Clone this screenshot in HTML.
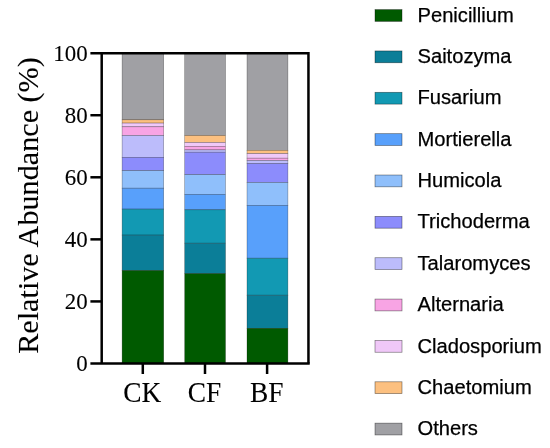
<!DOCTYPE html>
<html><head><meta charset="utf-8"><title>Relative Abundance</title>
<style>
html,body{margin:0;padding:0;background:#fff;overflow:hidden;}
svg{display:block;}
.serif{font-family:"Liberation Serif","Times New Roman",serif;fill:#000;stroke:#000;stroke-width:0.1px;}
.sans{font-family:"Liberation Sans",Arial,sans-serif;fill:#000;stroke:#000;stroke-width:0.25px;}
</style></head><body>
<svg width="550" height="448" viewBox="0 0 550 448">
<rect width="550" height="448" fill="#fff"/>
<rect x="122.1" y="53" width="41.6" height="66.8" fill="#a0a0a4" stroke="rgba(0,0,0,0.4)" stroke-width="0.6"/>
<rect x="122.1" y="119.8" width="41.6" height="3.3" fill="#fcc080" stroke="rgba(0,0,0,0.4)" stroke-width="0.6"/>
<rect x="122.1" y="123.1" width="41.6" height="3.7" fill="#f0c8f8" stroke="rgba(0,0,0,0.4)" stroke-width="0.6"/>
<rect x="122.1" y="126.8" width="41.6" height="8.7" fill="#f8a4e4" stroke="rgba(0,0,0,0.4)" stroke-width="0.6"/>
<rect x="122.1" y="135.5" width="41.6" height="21.8" fill="#bcbcfb" stroke="rgba(0,0,0,0.4)" stroke-width="0.6"/>
<rect x="122.1" y="157.3" width="41.6" height="13.3" fill="#8c8cfc" stroke="rgba(0,0,0,0.4)" stroke-width="0.6"/>
<rect x="122.1" y="170.6" width="41.6" height="17.6" fill="#8fbffb" stroke="rgba(0,0,0,0.4)" stroke-width="0.6"/>
<rect x="122.1" y="188.2" width="41.6" height="20.9" fill="#58a0fb" stroke="rgba(0,0,0,0.4)" stroke-width="0.6"/>
<rect x="122.1" y="209.1" width="41.6" height="26.0" fill="#1299b3" stroke="rgba(0,0,0,0.4)" stroke-width="0.6"/>
<rect x="122.1" y="235.1" width="41.6" height="35.4" fill="#0b7e98" stroke="rgba(0,0,0,0.4)" stroke-width="0.6"/>
<rect x="122.1" y="270.5" width="41.6" height="92.5" fill="#005a00" stroke="rgba(0,0,0,0.4)" stroke-width="0.6"/>
<rect x="184.7" y="53" width="40.8" height="82.5" fill="#a0a0a4" stroke="rgba(0,0,0,0.4)" stroke-width="0.6"/>
<rect x="184.7" y="135.5" width="40.8" height="7.0" fill="#fcc080" stroke="rgba(0,0,0,0.4)" stroke-width="0.6"/>
<rect x="184.7" y="142.5" width="40.8" height="3.8" fill="#f0c8f8" stroke="rgba(0,0,0,0.4)" stroke-width="0.6"/>
<rect x="184.7" y="146.3" width="40.8" height="3.6" fill="#f8a4e4" stroke="rgba(0,0,0,0.4)" stroke-width="0.6"/>
<rect x="184.7" y="149.9" width="40.8" height="2.3" fill="#bcbcfb" stroke="rgba(0,0,0,0.4)" stroke-width="0.6"/>
<rect x="184.7" y="152.2" width="40.8" height="22.4" fill="#8c8cfc" stroke="rgba(0,0,0,0.4)" stroke-width="0.6"/>
<rect x="184.7" y="174.6" width="40.8" height="19.7" fill="#8fbffb" stroke="rgba(0,0,0,0.4)" stroke-width="0.6"/>
<rect x="184.7" y="194.3" width="40.8" height="15.5" fill="#58a0fb" stroke="rgba(0,0,0,0.4)" stroke-width="0.6"/>
<rect x="184.7" y="209.8" width="40.8" height="33.4" fill="#1299b3" stroke="rgba(0,0,0,0.4)" stroke-width="0.6"/>
<rect x="184.7" y="243.2" width="40.8" height="30.4" fill="#0b7e98" stroke="rgba(0,0,0,0.4)" stroke-width="0.6"/>
<rect x="184.7" y="273.6" width="40.8" height="89.4" fill="#005a00" stroke="rgba(0,0,0,0.4)" stroke-width="0.6"/>
<rect x="247.0" y="53" width="40.9" height="97.3" fill="#a0a0a4" stroke="rgba(0,0,0,0.4)" stroke-width="0.6"/>
<rect x="247.0" y="150.3" width="40.9" height="3.3" fill="#fcc080" stroke="rgba(0,0,0,0.4)" stroke-width="0.6"/>
<rect x="247.0" y="153.6" width="40.9" height="4.6" fill="#f0c8f8" stroke="rgba(0,0,0,0.4)" stroke-width="0.6"/>
<rect x="247.0" y="158.2" width="40.9" height="2.3" fill="#f8a4e4" stroke="rgba(0,0,0,0.4)" stroke-width="0.6"/>
<rect x="247.0" y="160.5" width="40.9" height="3.0" fill="#bcbcfb" stroke="rgba(0,0,0,0.4)" stroke-width="0.6"/>
<rect x="247.0" y="163.5" width="40.9" height="19.0" fill="#8c8cfc" stroke="rgba(0,0,0,0.4)" stroke-width="0.6"/>
<rect x="247.0" y="182.5" width="40.9" height="22.8" fill="#8fbffb" stroke="rgba(0,0,0,0.4)" stroke-width="0.6"/>
<rect x="247.0" y="205.3" width="40.9" height="52.9" fill="#58a0fb" stroke="rgba(0,0,0,0.4)" stroke-width="0.6"/>
<rect x="247.0" y="258.2" width="40.9" height="37.0" fill="#1299b3" stroke="rgba(0,0,0,0.4)" stroke-width="0.6"/>
<rect x="247.0" y="295.2" width="40.9" height="33.1" fill="#0b7e98" stroke="rgba(0,0,0,0.4)" stroke-width="0.6"/>
<rect x="247.0" y="328.3" width="40.9" height="34.7" fill="#005a00" stroke="rgba(0,0,0,0.4)" stroke-width="0.6"/>
<g stroke="#000" stroke-width="2.5" fill="none" stroke-linecap="butt">
<path d="M90.4 53.15H308.45V363.5"/>
<path d="M101.7 53.15V363.5"/>
<path d="M90.4 363.5H309.7"/>
<path d="M90.4 115.22H101.7"/>
<path d="M90.4 177.29H101.7"/>
<path d="M90.4 239.36H101.7"/>
<path d="M90.4 301.43H101.7"/>
<path d="M142.8 363.5V374"/>
<path d="M205.0 363.5V374"/>
<path d="M267.1 363.5V374"/>
</g>
<text class="serif" font-size="24" text-anchor="end" transform="translate(87.6 61.05) scale(0.955 1)">100</text>
<text class="serif" font-size="24" text-anchor="end" transform="translate(87.6 123.12) scale(0.955 1)">80</text>
<text class="serif" font-size="24" text-anchor="end" transform="translate(87.6 185.19) scale(0.955 1)">60</text>
<text class="serif" font-size="24" text-anchor="end" transform="translate(87.6 247.26) scale(0.955 1)">40</text>
<text class="serif" font-size="24" text-anchor="end" transform="translate(87.6 309.33) scale(0.955 1)">20</text>
<text class="serif" font-size="24" text-anchor="end" transform="translate(87.6 371.40) scale(0.955 1)">0</text>
<text class="serif" font-size="29.3" text-anchor="middle" transform="translate(142.3 401.5) scale(0.935 1)">CK</text>
<text class="serif" font-size="29.3" text-anchor="middle" transform="translate(204.5 401.5) scale(0.935 1)">CF</text>
<text class="serif" font-size="29.3" text-anchor="middle" transform="translate(266.7 401.5) scale(0.935 1)">BF</text>
<text class="serif" font-size="30.4" text-anchor="start" transform="translate(38 353.8) rotate(-90) scale(0.993 1)">Relative Abundance (%)</text>
<rect x="375" y="9.60" width="27" height="11.8" fill="#005a00" stroke="rgba(0,0,0,0.5)" stroke-width="0.7"/>
<text class="sans" x="417.5" y="21.70" font-size="20.15">Penicillium</text>
<rect x="375" y="50.95" width="27" height="11.8" fill="#0b7e98" stroke="rgba(0,0,0,0.5)" stroke-width="0.7"/>
<text class="sans" x="417.5" y="63.05" font-size="20.15">Saitozyma</text>
<rect x="375" y="92.31" width="27" height="11.8" fill="#1299b3" stroke="rgba(0,0,0,0.5)" stroke-width="0.7"/>
<text class="sans" x="417.5" y="104.41" font-size="20.15">Fusarium</text>
<rect x="375" y="133.67" width="27" height="11.8" fill="#58a0fb" stroke="rgba(0,0,0,0.5)" stroke-width="0.7"/>
<text class="sans" x="417.5" y="145.77" font-size="20.15">Mortierella</text>
<rect x="375" y="175.02" width="27" height="11.8" fill="#8fbffb" stroke="rgba(0,0,0,0.5)" stroke-width="0.7"/>
<text class="sans" x="417.5" y="187.12" font-size="20.15">Humicola</text>
<rect x="375" y="216.38" width="27" height="11.8" fill="#8c8cfc" stroke="rgba(0,0,0,0.5)" stroke-width="0.7"/>
<text class="sans" x="417.5" y="228.47" font-size="20.15">Trichoderma</text>
<rect x="375" y="257.73" width="27" height="11.8" fill="#bcbcfb" stroke="rgba(0,0,0,0.5)" stroke-width="0.7"/>
<text class="sans" x="417.5" y="269.83" font-size="20.15">Talaromyces</text>
<rect x="375" y="299.08" width="27" height="11.8" fill="#f8a4e4" stroke="rgba(0,0,0,0.5)" stroke-width="0.7"/>
<text class="sans" x="417.5" y="311.18" font-size="20.15">Alternaria</text>
<rect x="375" y="340.44" width="27" height="11.8" fill="#f0c8f8" stroke="rgba(0,0,0,0.5)" stroke-width="0.7"/>
<text class="sans" x="417.5" y="352.54" font-size="20.15">Cladosporium</text>
<rect x="375" y="381.80" width="27" height="11.8" fill="#fcc080" stroke="rgba(0,0,0,0.5)" stroke-width="0.7"/>
<text class="sans" x="417.5" y="393.89" font-size="20.15">Chaetomium</text>
<rect x="375" y="423.15" width="27" height="11.8" fill="#a0a0a4" stroke="rgba(0,0,0,0.5)" stroke-width="0.7"/>
<text class="sans" x="417.5" y="435.25" font-size="20.15">Others</text>
</svg>
</body></html>
